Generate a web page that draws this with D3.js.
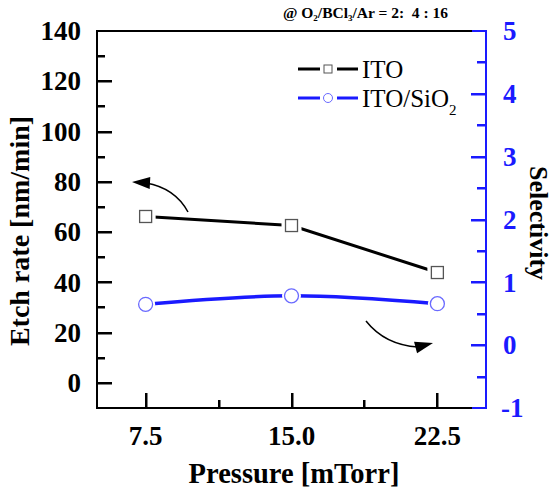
<!DOCTYPE html>
<html><head><meta charset="utf-8">
<script src="https://cdn.jsdelivr.net/npm/d3@7"></script>
<style>body{margin:0;background:#fff}svg{display:block}text{font-family:"Liberation Serif","Times New Roman",serif}</style>
</head><body>
<script>
const pressure = [7.5, 15.0, 22.5];
const etchRate = [66.2, 62.6, 43.9];
const selectivity = [0.65, 0.785, 0.66];
const xTicks = [7.5, 15.0, 22.5];
const xMinorTicks = [11.25, 18.75];
const yLeftTicks = [0, 20, 40, 60, 80, 100, 120, 140];
const yLeftMinor = [10, 30, 50, 70, 90, 110, 130];
const yRightTicks = [-1, 0, 1, 2, 3, 4, 5];
const yRightMinor = [-0.5, 0.5, 1.5, 2.5, 3.5, 4.5];

const W = 554, H = 489;
const L = 97, R = 486, T = 31, B = 408;
const BLUE = "#1a1aff";
const svg = d3.select("body").append("svg").attr("width", W).attr("height", H);

const x = d3.scaleLinear().domain([5, 25]).range([L, R]);
const yL = d3.scaleLinear().domain([-10, 140]).range([B, T]);
const yR = d3.scaleLinear().domain([-1, 5]).range([B, T]);

// left ticks
const leftTickData = yLeftTicks.filter(v => v < 140).map(v => ({v, len: 15}))
  .concat(yLeftMinor.map(v => ({v, len: 8})));
svg.append("g").selectAll("rect").data(leftTickData).join("rect")
  .attr("x", L).attr("y", d => Math.round(yL(d.v)) - 1).attr("width", d => d.len).attr("height", 2.5).attr("fill", "#000");

// right ticks
const rightTickData = yRightTicks.filter(v => v > -1 && v < 5).map(v => ({v, len: 15}))
  .concat(yRightMinor.map(v => ({v, len: 9})));
svg.append("g").selectAll("rect").data(rightTickData).join("rect")
  .attr("x", d => R - d.len).attr("y", d => Math.round(yR(d.v)) - 1).attr("width", d => d.len).attr("height", 2.5).attr("fill", BLUE);

// bottom ticks
const bottomTickData = xTicks.map(v => ({v, len: 15})).concat(xMinorTicks.map(v => ({v, len: 8})));
svg.append("g").selectAll("rect").data(bottomTickData).join("rect")
  .attr("x", d => Math.round(x(d.v)) - 1).attr("y", d => B - d.len).attr("width", 2.5).attr("height", d => d.len).attr("fill", "#000");

// frame
svg.append("path").attr("d", `M${R-14},${T}H${L}V${B}H${R-14}`).attr("fill", "none").attr("stroke", "#000").attr("stroke-width", 2);
svg.append("path").attr("d", `M${R-14},${T}H${R}V${B}H${R-14}`).attr("fill", "none").attr("stroke", BLUE).attr("stroke-width", 2);

svg.append("g").selectAll("text").data(yLeftTicks).join("text")
  .attr("x", 81).attr("y", d => yL(d)).attr("dy", "0.34em").attr("text-anchor", "end")
  .attr("font-weight", "bold").attr("font-size", 27).text(d => d);
svg.append("g").selectAll("text").data(yRightTicks).join("text")
  .attr("x", d => d < 0 ? 501 : 503).attr("y", d => yR(d)).attr("dy", "0.34em").attr("text-anchor", "start")
  .attr("font-weight", "bold").attr("font-size", 27).attr("fill", BLUE).text(d => d);
svg.append("g").selectAll("text").data(xTicks).join("text")
  .attr("x", d => x(d)).attr("y", 445).attr("text-anchor", "middle")
  .attr("font-weight", "bold").attr("font-size", 27).text(d => d.toFixed(1));

// axis titles
svg.append("text").attr("x", 294).attr("y", 483).attr("text-anchor", "middle")
  .attr("font-weight", "bold").attr("font-size", 28.5).text("Pressure [mTorr]");
svg.append("text").attr("transform", "translate(20,231) rotate(-90)").attr("dy", "0.33em").attr("text-anchor", "middle")
  .attr("font-weight", "bold").attr("font-size", 28).text("Etch rate [nm/min]");
svg.append("text").attr("transform", "translate(539,223) rotate(90)").attr("dy", "0.33em").attr("text-anchor", "middle")
  .attr("font-weight", "bold").attr("font-size", 26).text("Selectivity");

// header
const hdr = svg.append("text").attr("x", 283).attr("y", 18).attr("font-weight", "bold").attr("font-size", 15.5);
hdr.append("tspan").text("@ O");
hdr.append("tspan").attr("font-size", 9).attr("dy", 3).text("2");
hdr.append("tspan").attr("dy", -3).text("/BCl");
hdr.append("tspan").attr("font-size", 9).attr("dy", 3).text("3");
hdr.append("tspan").attr("dy", -3).text("/Ar = 2:\u00a0 4 : 16");

// lines
const ito = pressure.map((p, i) => [x(p), yL(etchRate[i])]);
const sel = pressure.map((p, i) => [x(p), yR(selectivity[i])]);
svg.append("path").attr("d", d3.line()(ito)).attr("fill", "none").attr("stroke", "#000").attr("stroke-width", 3);
svg.append("path").attr("d", d3.line().curve(d3.curveCatmullRom)(sel)).attr("fill", "none").attr("stroke", BLUE).attr("stroke-width", 3.5);

// markers with knockout
svg.append("g").selectAll("rect").data(ito).join("rect")
  .attr("x", d => d[0] - 10).attr("y", d => d[1] - 10).attr("width", 20).attr("height", 20).attr("fill", "#fff");
svg.append("g").selectAll("rect").data(ito).join("rect")
  .attr("x", d => d[0] - 6).attr("y", d => d[1] - 6).attr("width", 12).attr("height", 12)
  .attr("fill", "#fff").attr("stroke", "#555").attr("stroke-width", 1.3);
svg.append("g").selectAll("circle").data(sel).join("circle")
  .attr("cx", d => d[0]).attr("cy", d => d[1]).attr("r", 9.5).attr("fill", "#fff");
svg.append("g").selectAll("circle").data(sel).join("circle")
  .attr("cx", d => d[0]).attr("cy", d => d[1]).attr("r", 7)
  .attr("fill", "#fff").attr("stroke", "#6a6aff").attr("stroke-width", 1.3);

// annotation arrows
function arrow(path, tip, a) {
  svg.append("path").attr("d", path).attr("fill", "none").attr("stroke", "#000").attr("stroke-width", 1.5);
  const [tx, ty] = tip;
  const len = 18, w = 6;
  const bx = tx - len * Math.cos(a), by = ty - len * Math.sin(a);
  const nx = -Math.sin(a) * w, ny = Math.cos(a) * w;
  svg.append("path").attr("d", `M${tx},${ty}L${bx + nx},${by + ny}L${bx - nx},${by - ny}Z`).attr("fill", "#000");
}
arrow("M188,212 Q175,188 146,183", [132, 182], Math.PI + 0.05);
arrow("M366,321 Q385,345 418,347", [433, 343], -0.25);

// legend
const lg = svg.append("g");
lg.append("path").attr("d", "M298,69H320M337,69H358").attr("stroke", "#000").attr("stroke-width", 3);
lg.append("rect").attr("x", 324).attr("y", 65).attr("width", 8).attr("height", 8).attr("fill", "#fff").attr("stroke", "#555").attr("stroke-width", 1);
lg.append("text").attr("x", 362).attr("y", 69).attr("dy", "0.34em").attr("font-size", 25).text("ITO");
lg.append("path").attr("d", "M298,98H320M337,98H358").attr("stroke", BLUE).attr("stroke-width", 3);
lg.append("circle").attr("cx", 328).attr("cy", 98).attr("r", 4.5).attr("fill", "#fff").attr("stroke", "#6a6aff").attr("stroke-width", 1);
const lt = lg.append("text").attr("x", 362).attr("y", 98).attr("dy", "0.34em").attr("font-size", 25);
lt.append("tspan").text("ITO/SiO");
lt.append("tspan").attr("font-size", 15).attr("dy", 8).text("2");
</script>
</body></html>
